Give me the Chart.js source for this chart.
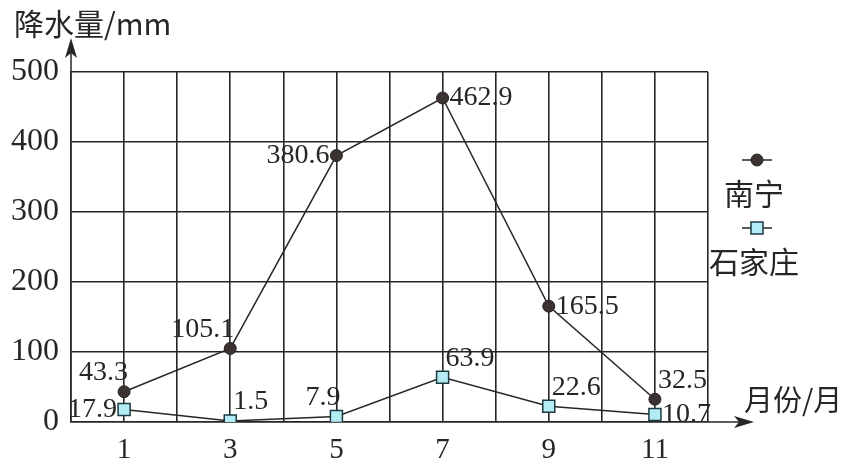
<!DOCTYPE html>
<html>
<head>
<meta charset="utf-8">
<script src="https://cdn.jsdelivr.net/npm/chart.js@4.4.1/dist/chart.umd.min.js"></script>
<style>
  html, body { margin: 0; padding: 0; background: #fff; }
  #wrap { width: 855px; height: 468px; }
</style>
</head>
<body>
<div id="wrap"><canvas id="rainChart" width="855" height="468"></canvas></div>
<script>
var months = [1, 3, 5, 7, 9, 11];
var nanning = [43.3, 105.1, 380.6, 462.9, 165.5, 32.5];
var shijiazhuang = [17.9, 1.5, 7.9, 63.9, 22.6, 10.7];
var yTicks = [0, 100, 200, 300, 400, 500];
var seriesNames = ['南宁', '石家庄'];

// where each value label sits around its point
var nanningPlace = ['tl', 'tl', 'l', 'r', 'r', 'tr'];
var sjzPlace = ['l', 'tr', 'tl', 'tr', 'tr', 'r'];

var ink = '#262626';
var numFont = '28px "Liberation Serif", "Times New Roman", serif';
var cjkFont = '"Noto Sans CJK SC", "Liberation Serif", sans-serif';

function toPoints(vals) {
  return months.map(function (m, i) { return { x: m, y: vals[i] }; });
}

// value labels beside the points
var valueLabels = {
  id: 'valueLabels',
  afterDatasetsDraw: function (chart) {
    var ctx = chart.ctx;
    var places = [nanningPlace, sjzPlace];
    ctx.save();
    ctx.font = numFont;
    ctx.fillStyle = ink;
    chart.data.datasets.forEach(function (ds, di) {
      chart.getDatasetMeta(di).data.forEach(function (pt, i) {
        var txt = String(ds.data[i].y);
        var p = places[di][i];
        var x = pt.x, y = pt.y;
        if (p === 'tl') { ctx.textAlign = 'right'; ctx.textBaseline = 'bottom'; x += 4; y -= 5; }
        else if (p === 'tr') { ctx.textAlign = 'left'; ctx.textBaseline = 'bottom'; x += 3; y -= 5; }
        else if (p === 'l') { ctx.textAlign = 'right'; ctx.textBaseline = 'middle'; x -= 7; }
        else { ctx.textAlign = 'left'; ctx.textBaseline = 'middle'; x += 7; }
        ctx.fillText(txt, x, y);
      });
    });
    ctx.restore();
  }
};

// arrows on the axes, axis titles and the legend on the right
var axisDecor = {
  id: 'axisDecor',
  afterDraw: function (chart) {
    var ctx = chart.ctx;
    var a = chart.chartArea;
    ctx.save();
    ctx.strokeStyle = ink;
    ctx.fillStyle = ink;
    ctx.lineWidth = 1.5;

    // y arrow
    ctx.beginPath();
    ctx.moveTo(a.left, a.top);
    ctx.lineTo(a.left, a.top - 26);
    ctx.stroke();
    ctx.beginPath();
    ctx.moveTo(a.left, a.top - 34);
    ctx.lineTo(a.left - 6, a.top - 14);
    ctx.lineTo(a.left, a.top - 19);
    ctx.lineTo(a.left + 6, a.top - 14);
    ctx.closePath();
    ctx.fill();

    // x arrow
    ctx.beginPath();
    ctx.moveTo(a.right, a.bottom);
    ctx.lineTo(a.right + 36, a.bottom);
    ctx.stroke();
    ctx.beginPath();
    ctx.moveTo(a.right + 46, a.bottom);
    ctx.lineTo(a.right + 26, a.bottom - 6);
    ctx.lineTo(a.right + 31, a.bottom);
    ctx.lineTo(a.right + 26, a.bottom + 6);
    ctx.closePath();
    ctx.fill();

    // axis titles
    ctx.textBaseline = 'middle';
    ctx.textAlign = 'left';
    ctx.font = '30px ' + cjkFont;
    ctx.fillText('降水量/mm', 14, 24);
    ctx.font = '29px ' + cjkFont;
    ctx.fillText('月份/月', 744, 400);

    // legend
    var rows = [{ y: 160, ty: 194 }, { y: 228, ty: 262 }];
    chart.data.datasets.forEach(function (ds, di) {
      var r = rows[di];
      var cx = 757;
      ctx.strokeStyle = ds.borderColor;
      ctx.lineWidth = 1.5;
      ctx.beginPath();
      ctx.moveTo(cx - 15, r.y);
      ctx.lineTo(cx + 15, r.y);
      ctx.stroke();
      ctx.fillStyle = ds.pointBackgroundColor;
      ctx.strokeStyle = ds.pointBorderColor;
      ctx.lineWidth = ds.pointBorderWidth;
      Chart.helpers.drawPoint(ctx, {
        pointStyle: ds.pointStyle, radius: ds.pointRadius, rotation: 0, borderWidth: ds.pointBorderWidth
      }, cx, r.y);
      ctx.fillStyle = ink;
      ctx.textAlign = 'center';
      ctx.font = '30px ' + cjkFont;
      ctx.fillText(seriesNames[di], cx - 3, r.ty);
    });
    ctx.restore();
  }
};

var ctx = document.getElementById('rainChart').getContext('2d');
window.rainChart = new Chart(ctx, {
  type: 'line',
  data: {
    datasets: [{
      label: seriesNames[0],
      data: toPoints(nanning),
      borderColor: ink,
      borderWidth: 1.5,
      pointStyle: 'circle',
      pointRadius: 6,
      pointBackgroundColor: '#3b3232',
      pointBorderColor: '#2a2222',
      pointBorderWidth: 1,
      tension: 0
    }, {
      label: seriesNames[1],
      data: toPoints(shijiazhuang),
      borderColor: ink,
      borderWidth: 1.5,
      pointStyle: 'rect',
      pointRadius: 8.5,
      pointBackgroundColor: '#b4ecf6',
      pointBorderColor: '#1d3a40',
      pointBorderWidth: 1.5,
      tension: 0
    }]
  },
  options: {
    responsive: false,
    animation: false,
    layout: { padding: { top: 72, right: 147, left: 0, bottom: 0 } },
    plugins: {
      legend: { display: false },
      tooltip: { enabled: false }
    },
    scales: {
      x: {
        type: 'linear',
        min: 0,
        max: 12,
        afterFit: function (scale) { scale.height = 46; },
        grid: { color: ink, lineWidth: 1.6, drawTicks: false },
        border: { color: ink, width: 1.6 },
        ticks: {
          stepSize: 1,
          padding: 11,
          color: ink,
          font: { family: '"Liberation Serif", serif', size: 29 },
          maxRotation: 0,
          autoSkip: false,
          callback: function (v) { return months.indexOf(v) >= 0 ? String(v) : ''; }
        }
      },
      y: {
        min: yTicks[0],
        max: yTicks[yTicks.length - 1],
        afterFit: function (scale) { scale.width = 71; },
        afterBuildTicks: function (scale) {
          scale.ticks = yTicks.map(function (v) { return { value: v }; });
        },
        grid: { color: ink, lineWidth: 1.6, drawTicks: false },
        border: { color: ink, width: 1.6 },
        ticks: {
          padding: 12,
          color: ink,
          font: { family: '"Liberation Serif", serif', size: 32 }
        }
      }
    }
  },
  plugins: [valueLabels, axisDecor]
});
</script>
</body>
</html>
